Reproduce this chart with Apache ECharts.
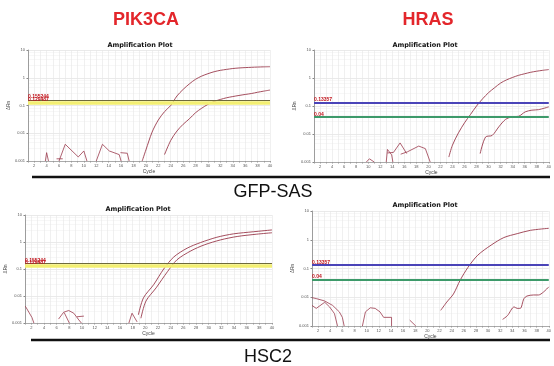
<!DOCTYPE html>
<html>
<head>
<meta charset="utf-8">
<script src="https://cdn.jsdelivr.net/npm/echarts@6/dist/echarts.min.js"></script>
<style>
  html, body { margin: 0; padding: 0; background: #fff; }
  #chart { width: 554px; height: 366px; }
</style>
</head>
<body>
<div id="chart"></div>
<script>
// curves: [cycle, ΔRn]
const sasPik3caHigh = [[19.4, 0.001], [20, 0.0025], [21, 0.011], [22, 0.03], [23, 0.06], [24, 0.1], [25, 0.22], [26, 0.38], [27, 0.6], [28, 0.88], [29, 1.15], [30, 1.4], [31, 1.65], [32, 1.85], [33, 2.0], [34, 2.15], [35, 2.25], [36, 2.32], [37, 2.38], [38, 2.43], [39, 2.47], [40, 2.5]]
const sasPik3caLow = [[23, 0.0017], [24, 0.0055], [25, 0.012], [26, 0.021], [27, 0.033], [28, 0.055], [29, 0.08], [30, 0.11], [31, 0.14], [32, 0.165], [33, 0.19], [34, 0.21], [35, 0.23], [36, 0.25], [37, 0.27], [38, 0.3], [39, 0.33], [40, 0.36]]
const sasPik3caNoise = [
  [[3.8, 0.001], [4.0, 0.002], [4.3, 0.001]],
  [[6.0, 0.001], [7.0, 0.004], [9.1, 0.0014], [10.0, 0.0023], [10.5, 0.001]],
  [[5.6, 0.0012], [6.6, 0.0012]],
  [[12.0, 0.001], [13.0, 0.004], [14.1, 0.0023], [15.7, 0.0017], [16.0, 0.001]],
  [[15.9, 0.002], [17.0, 0.0019], [17.3, 0.001]]
]
const sasHrasHigh = [[23.4, 0.0015], [24, 0.004], [25, 0.011], [26, 0.025], [27, 0.05], [28, 0.1], [29, 0.18], [30, 0.3], [31, 0.45], [32, 0.66], [33, 0.86], [34, 1.05], [35, 1.25], [36, 1.42], [37, 1.6], [38, 1.75], [39, 1.88], [40, 2.0]]
const sasHrasLow = [[28.6, 0.002], [29.5, 0.0078], [30.6, 0.0089], [31.7, 0.018], [32.8, 0.033], [33.9, 0.041], [35.0, 0.043], [36.1, 0.062], [37.2, 0.071], [38.3, 0.074], [40, 0.093]]
const sasHrasNoise = [
  [[9.7, 0.001], [10.2, 0.0013], [11, 0.001]],
  [[13.0, 0.001], [13.2, 0.0028], [13.9, 0.0018], [14.1, 0.001]],
  [[13.2, 0.0021], [14.2, 0.0022], [15.3, 0.0048], [16.4, 0.002]],
  [[15.4, 0.0019], [16.5, 0.0023], [18.4, 0.0037], [19.5, 0.003], [20.3, 0.001]]
]
const hscPik3caHigh = [[18.9, 0.002], [19.7, 0.0085], [21.3, 0.026], [22.9, 0.1], [24.5, 0.28], [26.6, 0.59], [28.7, 0.95], [31.3, 1.5], [33.9, 2.0], [37.1, 2.4], [40, 2.8]]
const hscPik3caLow = [[19.3, 0.0015], [20.1, 0.0065], [21.7, 0.02], [23.5, 0.08], [25, 0.22], [27.2, 0.47], [29.3, 0.78], [31.9, 1.2], [34.5, 1.6], [37.6, 1.95], [40, 2.2]]
const hscPik3caNoise = [
  [[1.05, 0.0042], [2.1, 0.0016], [2.4, 0.001]],
  [[6.3, 0.0014], [7.1, 0.0025], [7.9, 0.0029], [8.7, 0.0023], [9.5, 0.0013], [9.9, 0.001]],
  [[7.2, 0.0024], [8.0, 0.001]],
  [[9.2, 0.0017], [10.3, 0.0018]],
  [[17.4, 0.001], [17.9, 0.0023], [18.7, 0.0011]]
]
const hscHrasHigh = [[22.2, 0.0035], [23.2, 0.0068], [24.3, 0.013], [25.4, 0.039], [26.7, 0.11], [28.3, 0.29], [30.5, 0.65], [32.6, 1.19], [34.8, 1.63], [37.0, 2.13], [40, 2.5]]
const hscHrasLow = [[32.4, 0.0017], [33.2, 0.0023], [34.3, 0.0046], [34.8, 0.0041], [35.3, 0.0041], [35.9, 0.0089], [36.4, 0.011], [37.5, 0.012], [38.3, 0.012], [39.1, 0.015], [40, 0.023]]
const hscHrasNoise = [
  [[1, 0.0097], [1.7, 0.009], [3.1, 0.0074], [4.4, 0.0052], [5.5, 0.0031], [6.0, 0.002], [6.3, 0.001]],
  [[1, 0.0052], [1.7, 0.0041], [3.1, 0.0067], [3.9, 0.0046], [4.7, 0.0027], [5.2, 0.001]],
  [[9.3, 0.001], [9.8, 0.0031], [10.6, 0.0043], [11.4, 0.0041], [12.2, 0.0031], [12.8, 0.002], [14.1, 0.002], [14.1, 0.001]],
  [[17.1, 0.0016], [18.1, 0.001]]
]

// thresholds
const pik3caThresholds = [0.155244, 0.129487]
const hrasThresholds = [0.13357, 0.04]

const panels = [
  { grid: { left: 28, top: 50, width: 242, height: 111 }, curves: [sasPik3caHigh, sasPik3caLow], noise: sasPik3caNoise, kind: 'pik3ca', titleX: 140, titleY: 45 },
  { grid: { left: 314, top: 50, width: 238, height: 112 }, curves: [sasHrasHigh, sasHrasLow], noise: sasHrasNoise, kind: 'hras', titleX: 425, titleY: 45 },
  { grid: { left: 25, top: 215, width: 247, height: 108 }, curves: [hscPik3caHigh, hscPik3caLow], noise: hscPik3caNoise, kind: 'pik3ca', titleX: 138, titleY: 209 },
  { grid: { left: 312, top: 211, width: 242, height: 115 }, curves: [hscHrasHigh, hscHrasLow], noise: hscHrasNoise, kind: 'hras', titleX: 425, titleY: 205 }
]

const curveColor = '#9a3a4c'

function thresholdLines(kind) {
  const label = (txt) => ({
    show: true,
    position: 'insideStartTop',
    distance: [0, 0.5],
    formatter: txt,
    color: '#c0141c',
    fontSize: 5,
    fontWeight: 'bold'
  })
  if (kind === 'pik3ca') {
    return [
      { yAxis: pik3caThresholds[1], lineStyle: { color: '#f3ef72', width: 3.5, type: 'solid' }, label: label(String(pik3caThresholds[1])) },
      { yAxis: pik3caThresholds[0], lineStyle: { color: '#6e6a3c', width: 1, type: 'solid' }, label: label(String(pik3caThresholds[0])) }
    ]
  }
  return [
    { yAxis: hrasThresholds[0], lineStyle: { color: '#4a44b8', width: 2, type: 'solid' }, label: label(String(hrasThresholds[0])) },
    { yAxis: hrasThresholds[1], lineStyle: { color: '#3d9a6a', width: 2, type: 'solid' }, label: label(String(hrasThresholds[1])) }
  ]
}

const titleFont = 'bold 18px "Liberation Sans", Arial'
const groupFont = '18px "Liberation Sans", Arial'

const option = {
  backgroundColor: '#fff',
  animation: false,
  grid: [],
  xAxis: [],
  yAxis: [],
  series: [],
  graphic: [
    { type: 'text', x: 146, y: 20, style: { text: 'PIK3CA', fill: '#e3262b', font: titleFont, textAlign: 'center', textVerticalAlign: 'middle' } },
    { type: 'text', x: 428, y: 20, style: { text: 'HRAS', fill: '#e3262b', font: titleFont, textAlign: 'center', textVerticalAlign: 'middle' } },
    { type: 'line', shape: { x1: 32, y1: 177, x2: 550, y2: 177 }, style: { stroke: '#111', lineWidth: 2.5 } },
    { type: 'line', shape: { x1: 31, y1: 340, x2: 550, y2: 340 }, style: { stroke: '#111', lineWidth: 2.5 } },
    { type: 'text', x: 273, y: 192, style: { text: 'GFP-SAS', fill: '#111', font: groupFont, textAlign: 'center', textVerticalAlign: 'middle' } },
    { type: 'text', x: 268, y: 357, style: { text: 'HSC2', fill: '#111', font: groupFont, textAlign: 'center', textVerticalAlign: 'middle' } }
  ]
}

panels.forEach((p, i) => {
  option.grid.push(Object.assign({ containLabel: false, show: false }, p.grid))
  option.graphic.push({
    type: 'text', x: p.titleX, y: p.titleY,
    style: { text: 'Amplification Plot', fill: '#111', font: 'bold 6.5px "DejaVu Sans", Verdana', textAlign: 'center', textVerticalAlign: 'middle' }
  })
  option.xAxis.push({
    gridIndex: i,
    type: 'value',
    min: 1,
    max: 40,
    interval: 1,
    name: 'Cycle',
    nameLocation: 'middle',
    nameGap: 8,
    nameTextStyle: { fontSize: 5, color: '#444' },
    axisLine: { lineStyle: { color: '#999', width: 0.8 } },
    axisTick: { length: 1.5, lineStyle: { color: '#999' } },
    axisLabel: { fontSize: 4, color: '#555', margin: 3, formatter: (v) => (v % 2 === 0 ? String(v) : '') },
    splitLine: { show: true, lineStyle: { color: '#e6e6e6', width: 0.6 } }
  })
  option.yAxis.push({
    gridIndex: i,
    type: 'log',
    logBase: 10,
    min: 0.001,
    max: 10,
    name: 'ΔRn',
    nameLocation: 'middle',
    nameGap: 14,
    nameRotate: 90,
    nameTextStyle: { fontSize: 4.5, color: '#444' },
    axisLine: { show: true, lineStyle: { color: '#888', width: 0.8 } },
    axisTick: { show: true, length: 1.5, lineStyle: { color: '#888' } },
    axisLabel: { fontSize: 4, color: '#555', margin: 3, formatter: (v) => String(v) },
    splitLine: { show: true, lineStyle: { color: '#dcdcdc', width: 0.6 } },
    minorTick: { show: false, splitNumber: 5 },
    minorSplitLine: { show: true, lineStyle: { color: '#eeeeee', width: 0.5 } }
  })
  p.curves.forEach((c, k) => {
    option.series.push({
      type: 'line',
      xAxisIndex: i,
      yAxisIndex: i,
      data: c,
      symbol: 'none',
      smooth: 0.3,
      z: 3,
      lineStyle: { color: curveColor, width: 0.9 },
      markLine: k === 0 ? { silent: true, symbol: ['none', 'none'], data: thresholdLines(p.kind) } : undefined
    })
  })
  p.noise.forEach((seg) => {
    option.series.push({
      type: 'line',
      xAxisIndex: i,
      yAxisIndex: i,
      data: seg,
      symbol: 'none',
      lineStyle: { color: curveColor, width: 0.8 }
    })
  })
})

const chart = echarts.init(document.getElementById('chart'), null, { renderer: 'canvas' })
chart.setOption(option)
</script>
</body>
</html>
